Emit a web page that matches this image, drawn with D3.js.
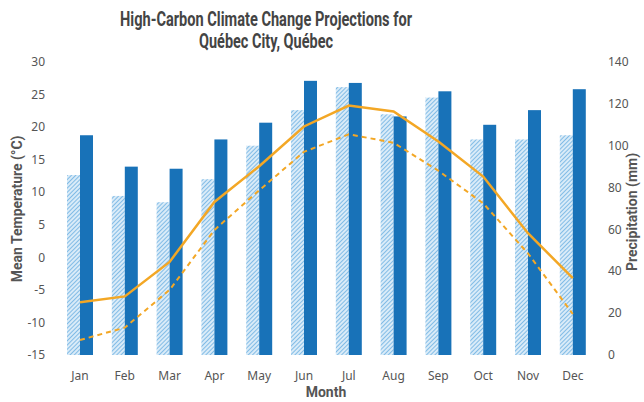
<!DOCTYPE html>
<html lang="en">
<head>
<meta charset="utf-8">
<title>Québec City climate</title>
<script src="https://d3js.org/d3.v7.min.js"></script>
<style>
  body { margin: 0; background: #fff; }
  .tick-label { font-family: "Noto Sans", "Open Sans", sans-serif; font-size: 12px; fill: #555; }
  .axis-title { font-family: "Roboto", "Noto Sans", sans-serif; font-weight: bold; font-size: 14px; fill: #555; }
  .title { font-family: "Roboto", "Noto Sans", sans-serif; font-weight: bold; font-size: 20px; fill: #444; }
</style>
</head>
<body>
<svg width="644" height="402"></svg>
<script>
// data
var months = ["Jan", "Feb", "Mar", "Apr", "May", "Jun", "Jul", "Aug", "Sep", "Oct", "Nov", "Dec"];
var precipHist = [86, 76, 73, 84, 100, 117, 128, 115, 123, 103, 103, 105];
var precipProj = [105, 90, 89, 103, 111, 131, 130, 114, 126, 110, 117, 127];
var tempProj = [-6.9, -6.0, -0.7, 8.5, 14.0, 20.1, 23.3, 22.4, 17.8, 12.4, 3.7, -3.2];
var tempHist = [-12.7, -10.8, -5.0, 4.2, 10.3, 16.2, 18.9, 17.6, 13.3, 8.3, 0.6, -8.7];
var tempTicks = [-15, -10, -5, 0, 5, 10, 15, 20, 25, 30];
var precipTicks = [0, 20, 40, 60, 80, 100, 120, 140];

var svg = d3.select("svg");
var plotTop = 62, plotBottom = 355;

var x = d3.scaleBand().domain(months).range([57.6, 595.2])
  .paddingInner(0.42).paddingOuter(0.21);
var yT = d3.scaleLinear().domain([-15, 30]).range([plotBottom, plotTop]);
var yP = d3.scaleLinear().domain([0, 140]).range([plotBottom, plotTop]);

// hatch pattern for the lighter bars
var defs = svg.append("defs");
var pat = defs.append("pattern")
  .attr("id", "hatch")
  .attr("patternUnits", "userSpaceOnUse")
  .attr("width", 3).attr("height", 3)
  .attr("patternTransform", "rotate(45)");
pat.append("rect").attr("width", 3).attr("height", 3).attr("fill", "#d9ebf8");
pat.append("line").attr("x1", 0).attr("y1", 0).attr("x2", 0).attr("y2", 3)
  .attr("stroke", "#6cb0e2").attr("stroke-width", 1.6);

var bw = x.bandwidth() / 2;

svg.append("g").selectAll("rect")
  .data(months)
  .join("rect")
  .attr("x", d => x(d))
  .attr("y", (d, i) => yP(precipHist[i]))
  .attr("width", bw)
  .attr("height", (d, i) => plotBottom - yP(precipHist[i]))
  .attr("fill", "url(#hatch)");

svg.append("g").selectAll("rect")
  .data(months)
  .join("rect")
  .attr("x", d => x(d) + bw)
  .attr("y", (d, i) => yP(precipProj[i]))
  .attr("width", bw)
  .attr("height", (d, i) => plotBottom - yP(precipProj[i]))
  .attr("fill", "#1872b8");

var line = d3.line()
  .x((d, i) => x(months[i]) + x.bandwidth() / 2)
  .y(d => yT(d));

svg.append("path").datum(tempHist)
  .attr("fill", "none").attr("stroke", "#f3a725")
  .attr("stroke-width", 2).attr("stroke-dasharray", "5,4")
  .attr("d", line);

svg.append("path").datum(tempProj)
  .attr("fill", "none").attr("stroke", "#f3a725")
  .attr("stroke-width", 2.5)
  .attr("d", line);

// axes without lines
svg.append("g").selectAll("text")
  .data(tempTicks).join("text")
  .attr("class", "tick-label")
  .attr("x", 45).attr("y", d => yT(d))
  .attr("dy", "0.35em").attr("text-anchor", "end")
  .text(d => d);

svg.append("g").selectAll("text")
  .data(precipTicks).join("text")
  .attr("class", "tick-label")
  .attr("x", 608).attr("y", d => yP(d))
  .attr("dy", "0.35em").attr("text-anchor", "start")
  .text(d => d);

svg.append("g").selectAll("text")
  .data(months).join("text")
  .attr("class", "tick-label")
  .attr("x", d => x(d) + x.bandwidth() / 2).attr("y", 376)
  .attr("dy", "0.35em").attr("text-anchor", "middle")
  .text(d => d);

svg.append("text").attr("class", "axis-title")
  .attr("x", 326).attr("y", 397).attr("text-anchor", "middle")
  .text("Month");

svg.append("text").attr("class", "axis-title")
  .attr("transform", "translate(22,209) rotate(-90)")
  .attr("text-anchor", "middle")
  .text("Mean Temperature (°C)");

svg.append("text").attr("class", "axis-title")
  .attr("transform", "translate(637,212) rotate(-90)")
  .attr("text-anchor", "middle")
  .text("Precipitation (mm)");

svg.append("text").attr("class", "title")
  .attr("x", 266).attr("y", 26).attr("text-anchor", "middle")
  .attr("textLength", 292).attr("lengthAdjust", "spacingAndGlyphs")
  .text("High-Carbon Climate Change Projections for");
svg.append("text").attr("class", "title")
  .attr("x", 266).attr("y", 48).attr("text-anchor", "middle")
  .attr("textLength", 134).attr("lengthAdjust", "spacingAndGlyphs")
  .text("Québec City, Québec");
</script>
</body>
</html>
